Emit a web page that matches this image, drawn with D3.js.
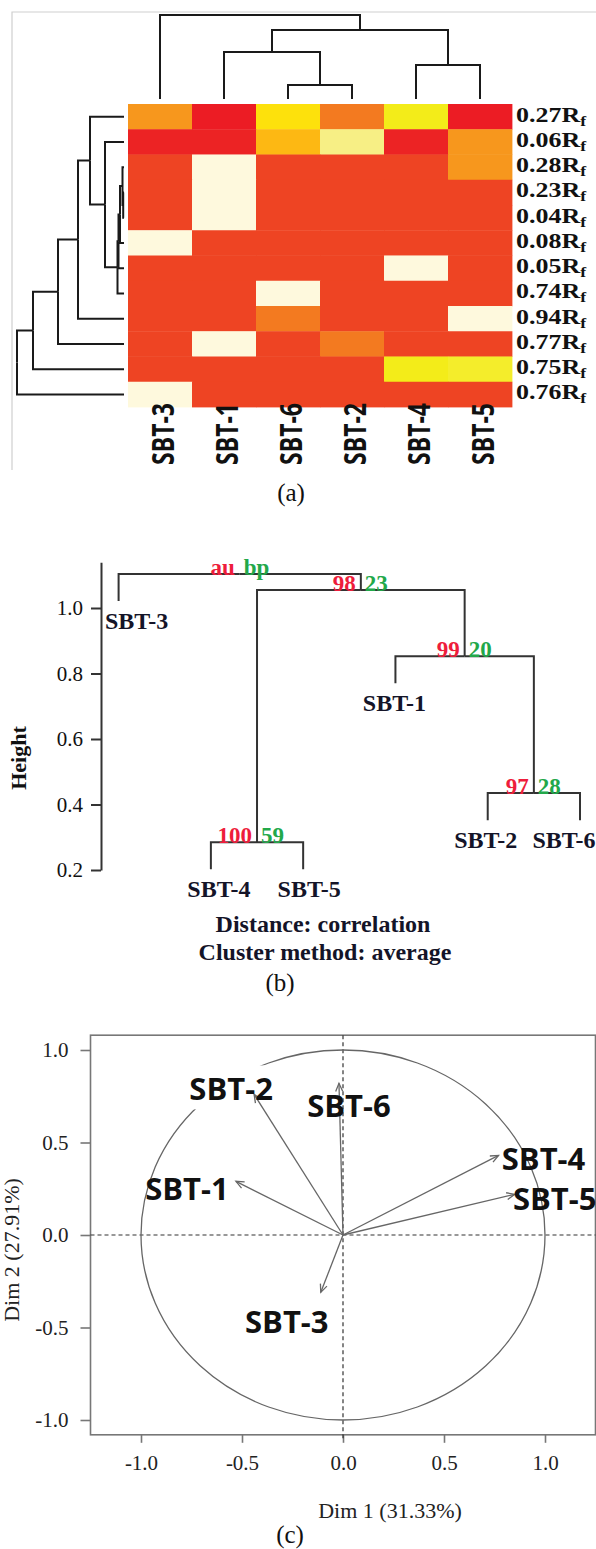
<!DOCTYPE html>
<html><head><meta charset="utf-8">
<script src="https://cdn.jsdelivr.net/npm/d3@7"></script>
<style>body{margin:0;background:#fff}svg{display:block}</style>
</head><body><svg id="c" width="596" height="1549"></svg>
<script>
// ================= DATA =================
// (a) heatmap
const heatCols = ["SBT-3","SBT-1","SBT-6","SBT-2","SBT-4","SBT-5"];
const heatRows = ["0.27","0.06","0.28","0.23","0.04","0.08","0.05","0.74","0.94","0.77","0.75","0.76"];
const heatValues = [
  [0.42,0.00,0.64,0.28,0.70,0.00],
  [0.02,0.02,0.52,0.82,0.02,0.42],
  [0.12,1.00,0.12,0.12,0.12,0.42],
  [0.12,1.00,0.12,0.12,0.12,0.12],
  [0.12,1.00,0.12,0.12,0.12,0.12],
  [1.00,0.12,0.12,0.12,0.12,0.12],
  [0.12,0.12,0.12,0.12,1.00,0.12],
  [0.12,0.12,1.00,0.12,0.12,0.12],
  [0.12,0.12,0.28,0.12,0.12,1.00],
  [0.12,1.00,0.12,0.28,0.12,0.12],
  [0.12,0.12,0.12,0.12,0.70,0.72],
  [1.00,0.12,0.12,0.12,0.12,0.12]
];
const heatStops  = [0, 0.12, 0.28, 0.42, 0.52, 0.64, 0.70, 0.82, 1];
const heatColors = ["#ec1c24","#ee4423","#f37a20","#f7971d","#fdb813","#fde10c","#f3ec19","#f7ef85","#fef9dd"];
// column dendrogram (heights)
const colTree = {h:1.0, c:[{leaf:"SBT-3"},
  {h:0.82, c:[{h:0.56, c:[{leaf:"SBT-1"},{h:0.167, c:[{leaf:"SBT-6"},{leaf:"SBT-2"}]}]},
              {h:0.405, c:[{leaf:"SBT-4"},{leaf:"SBT-5"}]}]}]};
// row dendrogram (heights)
const rowTree = {h:1.07, c:[{h:0.91, c:[{h:0.66, c:[{h:0.46, c:[{h:0.34, c:[{leaf:"0.27"},
  {h:0.19, c:[{leaf:"0.06"},{h:0.065, c:[{h:0.055, c:[{h:0.04, c:[{h:0.015, c:[{leaf:"0.28"},
  {h:0.008, c:[{leaf:"0.23"},{leaf:"0.04"}]}]},{leaf:"0.08"}]},{leaf:"0.05"}]},{leaf:"0.74"}]}]}]},
  {leaf:"0.94"}]},{leaf:"0.77"}]},{leaf:"0.75"}]},{leaf:"0.76"}]};

// (b) hierarchical clustering with bootstrap values
const hcLeaves = ["SBT-3","SBT-4","SBT-5","SBT-1","SBT-2","SBT-6"];
const hcTree = {h:1.104, au:"au", bp:"bp", c:[{leaf:"SBT-3"},
  {h:1.055, au:"98", bp:"23", c:[
    {h:0.285, au:"100", bp:"59", c:[{leaf:"SBT-4"},{leaf:"SBT-5"}]},
    {h:0.853, au:"99", bp:"20", c:[{leaf:"SBT-1"},
      {h:0.435, au:"97", bp:"28", c:[{leaf:"SBT-2"},{leaf:"SBT-6"}]}]}]}]};
const hcHang = 0.083;
const hcTicks = [0.2, 0.4, 0.6, 0.8, 1.0];
const hcLabelDx = [18, 8, 6, -1, -2, -16];   // label nudges (px)

// (c) PCA variable correlation circle
const pcaVars = ["SBT-1","SBT-2","SBT-3","SBT-4","SBT-5","SBT-6"];
const pcaDim1 = [-0.53, -0.44, -0.11, 0.77, 0.85, -0.02];
const pcaDim2 = [ 0.29,  0.76, -0.31, 0.43, 0.22,  0.82];
const pcaTicks = [-1.0, -0.5, 0.0, 0.5, 1.0];
const pcaLabelDx = [-49, -23, -34, 45, 40, 10];
const pcaLabelDy = [19, 6, 41, 15, 16, 34];
const pcaMasked = ["SBT-2"];

// ================= DRAW =================
const svg = d3.select("#c");
const serif = "'Liberation Serif','Times New Roman',serif";
const sans = "'Open Sans','Lato',sans-serif";

function layout(node, leafPos){
  if (node.leaf !== undefined){ node.p = leafPos(node.leaf); return; }
  node.c.forEach(ch => layout(ch, leafPos));
  node.p = d3.mean(node.c, ch => ch.p);
}
function edges(node, out){
  if (!node.c) return out;
  node.c.forEach(ch => { out.push({par:node, ch:ch}); edges(ch, out); });
  return out;
}
function internals(node, out){
  if (!node.c) return out;
  out.push(node); node.c.forEach(ch => internals(ch, out)); return out;
}

// ---------- (a) ----------
const gA = svg.append("g");
gA.append("path").attr("d","M12,470 V12 H596").attr("fill","none")
  .attr("stroke","#cfcfcf").attr("stroke-width",1.2);
const xA = d3.scaleBand().domain(heatCols).range([128,512]);
const yA = d3.scaleBand().domain(heatRows).range([104,407]);
const heatColor = d3.scaleLinear().domain(heatStops).range(heatColors);
const cells = heatValues.flatMap((row,i) => row.map((v,j) => ({r:heatRows[i], c:heatCols[j], v:v})));
gA.selectAll("rect.cell").data(cells).join("rect").attr("class","cell")
  .attr("x", d => xA(d.c)).attr("y", d => yA(d.r))
  .attr("width", xA.bandwidth()+0.4).attr("height", yA.bandwidth()+0.4)
  .attr("fill", d => heatColor(d.v));

// column dendrogram
const colH = d3.scaleLinear().domain([0,1]).range([99,15]);
layout(colTree, k => xA(k) + xA.bandwidth()/2);
gA.selectAll("path.cd").data(edges(colTree, [])).join("path").attr("class","cd")
  .attr("d", e => `M${e.par.p},${colH(e.par.h)}H${e.ch.p}V${colH(e.ch.h||0)}`)
  .attr("fill","none").attr("stroke","#1a1a1a").attr("stroke-width",2);

// row dendrogram
const rowH = d3.scaleLinear().domain([0,1.07]).range([124,17]);
layout(rowTree, k => yA(k) + yA.bandwidth()/2);
gA.selectAll("path.rd").data(edges(rowTree, [])).join("path").attr("class","rd")
  .attr("d", e => `M${rowH(e.par.h)},${e.par.p}V${e.ch.p}H${rowH(e.ch.h||0)}`)
  .attr("fill","none").attr("stroke","#1a1a1a").attr("stroke-width",2);

// row labels
const rl = gA.selectAll("text.rl").data(heatRows).join("text").attr("class","rl")
  .attr("transform", d => `translate(516,${yA(d)+yA.bandwidth()/2+5}) scale(1.18,1)`)
  .attr("font-family", serif).attr("font-weight","bold").attr("font-size",22).attr("fill","#111");
rl.append("tspan").text(d => d + "R");
rl.append("tspan").attr("font-size",15).attr("dy",4).text("f");

// column labels
gA.selectAll("text.cl").data(heatCols).join("text").attr("class","cl")
  .attr("transform", d => `translate(${xA(d)+xA.bandwidth()/2+14},403) scale(1.3,1) rotate(-90)`)
  .attr("text-anchor","end").attr("font-family", sans).attr("font-weight","bold")
  .attr("font-size",23).attr("fill","#111").text(d => d);

gA.append("text").attr("x",291).attr("y",501).attr("text-anchor","middle")
  .attr("font-family",serif).attr("font-size",25).attr("fill","#111").text("(a)");

// ---------- (b) ----------
const gB = svg.append("g");
const yB = d3.scaleLinear().domain([0.2,1.0]).range([870,608]);
const xB = d3.scalePoint().domain(hcLeaves).range([118.6,580]);
const yBaxis = yB.copy().domain([0.2,1.14]).range([yB(0.2), yB(1.14)]);
const axB = gB.append("g").attr("transform","translate(101,0)")
  .call(d3.axisLeft(yBaxis).tickValues(hcTicks).tickFormat(d3.format(".1f"))
        .tickSize(10).tickSizeOuter(0).tickPadding(8));
axB.selectAll("path,line").attr("stroke","#333").attr("stroke-width",2);
axB.selectAll("text").attr("font-family",serif).attr("font-size",21).attr("fill","#111");

layout(hcTree, k => xB(k));
gB.selectAll("path.hc").data(edges(hcTree, [])).join("path").attr("class","hc")
  .attr("d", e => `M${e.par.p},${yB(e.par.h)}H${e.ch.p}V${yB(e.ch.leaf !== undefined ? e.par.h - hcHang : e.ch.h)}`)
  .attr("fill","none").attr("stroke","#333").attr("stroke-width",2);

// leaf labels
const leafNodes = edges(hcTree, []).filter(e => e.ch.leaf !== undefined);
gB.selectAll("text.lf").data(leafNodes).join("text").attr("class","lf")
  .attr("x", e => e.ch.p + hcLabelDx[hcLeaves.indexOf(e.ch.leaf)])
  .attr("y", e => yB(e.par.h - hcHang) + 28)
  .attr("text-anchor","middle").attr("font-family",serif).attr("font-weight","bold")
  .attr("font-size",24).attr("fill","#141428").text(e => e.ch.leaf);

// au / bp
const inner = internals(hcTree, []);
gB.selectAll("text.au").data(inner).join("text").attr("class","au")
  .attr("x", n => n.p - 5).attr("y", n => yB(n.h) + 1).attr("text-anchor","end")
  .attr("font-family",serif).attr("font-weight","bold").attr("font-size",23)
  .attr("fill","#ee1d3b").text(n => n.au);
gB.selectAll("text.bp").data(inner).join("text").attr("class","bp")
  .attr("x", n => n.p + 4).attr("y", n => yB(n.h) + 1).attr("text-anchor","start")
  .attr("font-family",serif).attr("font-weight","bold").attr("font-size",23)
  .attr("fill","#22a84a").text(n => n.bp);

gB.append("text").attr("transform","translate(26,758) rotate(-90)").attr("text-anchor","middle")
  .attr("font-family",serif).attr("font-weight","bold").attr("font-size",22).attr("fill","#111").text("Height");
gB.append("text").attr("x",323).attr("y",932).attr("text-anchor","middle")
  .attr("font-family",serif).attr("font-weight","bold").attr("font-size",24).attr("fill","#141428").text("Distance: correlation");
gB.append("text").attr("x",325).attr("y",960).attr("text-anchor","middle")
  .attr("font-family",serif).attr("font-weight","bold").attr("font-size",24).attr("fill","#141428").text("Cluster method: average");
gB.append("text").attr("x",280).attr("y",991).attr("text-anchor","middle")
  .attr("font-family",serif).attr("font-size",25).attr("fill","#111").text("(b)");

// ---------- (c) ----------
const gC = svg.append("g");
const xC = d3.scaleLinear().domain([-1,1]).range([141,545]);
const yC = d3.scaleLinear().domain([-1,1]).range([1420,1050]);
const boxX = [-1.25, 1.25], boxY = [-1.08, 1.08];
gC.append("rect").attr("x", xC(boxX[0])).attr("y", yC(boxY[1]))
  .attr("width", xC(boxX[1]) - xC(boxX[0])).attr("height", yC(boxY[0]) - yC(boxY[1]))
  .attr("fill","none").attr("stroke","#777").attr("stroke-width",1.6);
const axL = gC.append("g").attr("transform",`translate(${xC(boxX[0])},0)`)
  .call(d3.axisLeft(yC).tickValues(pcaTicks).tickFormat(d3.format(".1f")).tickSize(10).tickPadding(12));
const axBt = gC.append("g").attr("transform",`translate(0,${yC(boxY[0])})`)
  .call(d3.axisBottom(xC).tickValues(pcaTicks).tickFormat(d3.format(".1f")).tickSize(8).tickPadding(12));
[axL, axBt].forEach(a => {
  a.select(".domain").remove();
  a.selectAll("line").attr("stroke","#777").attr("stroke-width",1.6);
  a.selectAll("text").attr("font-family",serif).attr("font-size",21).attr("fill","#222");
});
axL.selectAll("text").text(d => d3.format(".1f")(d).replace("−","-"));
axBt.selectAll("text").text(d => d3.format(".1f")(d).replace("−","-"));
gC.append("line").attr("x1", xC(boxX[0])).attr("x2", xC(boxX[1])).attr("y1", yC(0)).attr("y2", yC(0))
  .attr("stroke","#333").attr("stroke-width",1.2).attr("stroke-dasharray","4,3");
gC.append("line").attr("x1", xC(0)).attr("x2", xC(0)).attr("y1", yC(boxY[1])).attr("y2", yC(boxY[0]) + 6)
  .attr("stroke","#333").attr("stroke-width",1.2).attr("stroke-dasharray","4,3");
gC.append("ellipse").attr("cx", xC(0)).attr("cy", yC(0))
  .attr("rx", xC(1) - xC(0)).attr("ry", yC(0) - yC(1))
  .attr("fill","none").attr("stroke","#666").attr("stroke-width",1.3);

const pca = pcaVars.map((v,i) => ({name:v, x:pcaDim1[i], y:pcaDim2[i], dx:pcaLabelDx[i], dy:pcaLabelDy[i]}));
const maskG = gC.append("g");
svg.append("defs").append("marker").attr("id","ah").attr("viewBox","-10 -5 12 10")
  .attr("refX",0).attr("refY",0).attr("markerWidth",12).attr("markerHeight",10)
  .attr("markerUnits","userSpaceOnUse").attr("orient","auto")
  .append("path").attr("d","M-8,-3.5L0,0L-8,3.5").attr("fill","none").attr("stroke","#666").attr("stroke-width",1.3);
gC.selectAll("line.arr").data(pca).join("line").attr("class","arr")
  .attr("x1", xC(0)).attr("y1", yC(0)).attr("x2", d => xC(d.x)).attr("y2", d => yC(d.y))
  .attr("stroke","#666").attr("stroke-width",1.3).attr("marker-end","url(#ah)");
const lab = gC.selectAll("text.pl").data(pca).join("text").attr("class","pl")
  .attr("x", d => xC(d.x) + d.dx).attr("y", d => yC(d.y) + d.dy)
  .attr("text-anchor","middle").attr("font-family",sans).attr("font-weight","bold")
  .attr("font-size",31).attr("fill","#111").text(d => d.name);
lab.filter(d => pcaMasked.includes(d.name)).each(function(){
  const b = this.getBBox();
  maskG.append("rect").attr("x", b.x - 2).attr("y", b.y - 2).attr("width", b.width + 4).attr("height", b.height + 2).attr("fill","#fff");
});

gC.append("text").attr("x",390).attr("y",1518).attr("text-anchor","middle")
  .attr("font-family",serif).attr("font-size",22).attr("fill","#222").text("Dim 1 (31.33%)");
gC.append("text").attr("transform","translate(19,1250) rotate(-90)").attr("text-anchor","middle")
  .attr("font-family",serif).attr("font-size",22).attr("fill","#222").text("Dim 2 (27.91%)");
gC.append("text").attr("x",290).attr("y",1543).attr("text-anchor","middle")
  .attr("font-family",serif).attr("font-size",25).attr("fill","#111").text("(c)");
</script>
</body></html>
